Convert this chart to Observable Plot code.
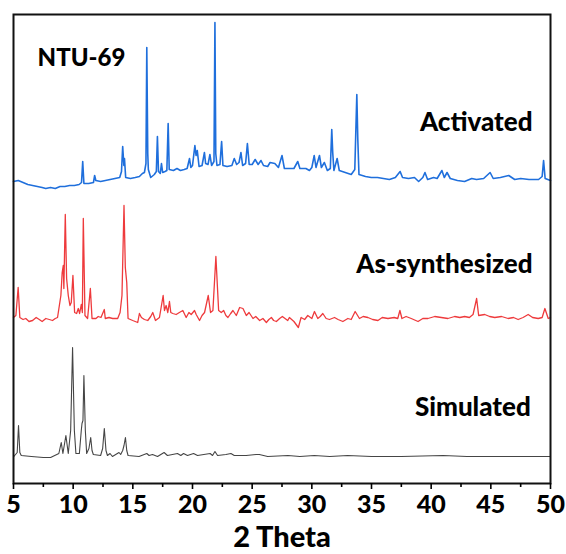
<!DOCTYPE html>
<html>
<head>
<meta charset="utf-8">
<script src="https://cdn.jsdelivr.net/npm/d3@7"></script>
<script src="https://cdn.jsdelivr.net/npm/@observablehq/plot@0.6"></script>
<style>
  html, body { margin: 0; padding: 0; background: #fff; }
  svg text { font-family: Lato, "Open Sans", sans-serif; font-weight: 900; }
</style>
</head>
<body>
<div id="chart"></div>
<script>
// 2θ positions and stacked intensities (arbitrary units)
const activated = [
  [5.0,302],[5.4,303],[5.8,301],[6.2,299],[6.6,298],[7.0,297],[7.4,296],[7.7,295],[8.1,296],[8.5,295],
  [8.9,297],[9.3,297],[9.7,298],[10.1,298],[10.5,299],[10.7,301],[10.8,322],[10.9,300],[11.3,300],[11.7,301],
  [11.8,308],[11.9,303],[12.3,302],[12.7,303],[13.1,304],[13.5,305],[13.9,306],[14.05,312],[14.15,337],[14.25,318],
  [14.3,325],[14.4,306],[14.8,305],[15.2,306],[15.55,307],[15.8,310],[15.97,311],[16.1,320],[16.17,436],[16.25,330],
  [16.3,314],[16.5,306],[16.8,309],[16.97,312],[17.06,347],[17.15,312],[17.3,310],[17.4,320],[17.5,311],[17.7,312],
  [17.85,313],[17.96,360],[18.05,314],[18.4,313],[18.7,315],[18.99,313],[19.3,314],[19.55,315],[19.75,325],[19.86,316],
  [20.0,318],[20.2,338],[20.3,328],[20.4,333],[20.55,317],[20.8,318],[21.0,331],[21.1,320],[21.3,319],[21.46,329],
  [21.6,318],[21.8,322],[21.88,461],[21.95,330],[22.05,318],[22.3,319],[22.44,342],[22.55,318],[22.9,317],[23.3,318],
  [23.5,325],[23.7,319],[23.9,321],[24.06,331],[24.2,318],[24.45,320],[24.6,340],[24.75,319],[25.0,319],[25.25,324],
  [25.5,319],[25.74,323],[25.95,318],[26.3,317],[26.5,321],[26.9,320],[27.2,316],[27.5,328],[27.7,315],[28.1,315],
  [28.5,315],[28.82,322],[29.0,315],[29.5,315],[29.8,313],[30.0,316],[30.2,328],[30.35,316],[30.64,328],[30.8,316],
  [31.05,321],[31.3,313],[31.55,315],[31.67,354],[31.75,331],[31.85,313],[32.12,325],[32.3,313],[32.8,311],[33.3,309],
  [33.6,314],[33.77,389],[33.85,345],[33.95,309],[34.5,307],[34.98,306],[35.5,306],[36.0,305],[36.5,304],[37.0,306],
  [37.4,312],[37.6,306],[38.1,305],[38.6,306],[38.95,302],[39.3,306],[39.48,311],[39.7,304],[40.2,306],[40.5,305],
  [40.9,313],[41.1,306],[41.33,311],[41.6,305],[42.2,303],[42.8,302],[43.4,305],[43.8,304],[44.4,305],[44.94,311],
  [45.2,305],[45.8,306],[46.5,308],[47.0,304],[47.5,305],[48.2,304],[49.0,304],[49.3,307],[49.42,323],[49.55,305],
  [50.0,303]
];
const asSynthesized = [
  [5.0,166],[5.2,168],[5.39,196],[5.53,166],[5.8,164],[6.03,165],[6.3,162],[6.6,163],[6.9,166],[7.16,164],
  [7.4,162],[7.71,165],[8.0,164],[8.27,163],[8.5,165],[8.69,166],[8.97,188],[9.08,211],[9.17,218],[9.22,195],
  [9.34,269],[9.45,205],[9.59,188],[9.73,178],[9.84,181],[9.98,208],[10.12,171],[10.29,170],[10.43,175],[10.54,170],
  [10.68,179],[10.77,171],[10.85,265],[10.99,168],[11.21,165],[11.44,195],[11.58,165],[11.91,165],[12.1,167],[12.33,166],
  [12.61,174],[12.69,165],[13.0,166],[13.31,165],[13.73,165],[13.93,171],[14.09,188],[14.26,278],[14.37,216],[14.49,201],
  [14.6,165],[14.99,163],[15.2,162],[15.41,161],[15.55,170],[15.72,166],[15.97,164],[16.25,163],[16.5,167],[16.67,171],
  [16.9,163],[17.23,166],[17.54,188],[17.65,173],[17.79,178],[17.93,171],[18.07,182],[18.18,171],[18.35,170],[18.63,169],
  [18.9,171],[19.19,173],[19.47,166],[19.7,171],[19.89,169],[20.17,173],[20.31,169],[20.59,163],[20.8,168],[21.01,171],
  [21.32,188],[21.51,171],[21.71,173],[21.96,227],[22.19,173],[22.41,171],[22.61,173],[22.8,168],[22.97,166],[23.2,170],
  [23.39,173],[23.67,168],[23.95,176],[24.23,175],[24.51,168],[24.74,171],[25.07,165],[25.3,167],[25.63,163],[25.9,165],
  [26.19,161],[26.4,164],[26.61,166],[26.8,163],[27.03,162],[27.3,165],[27.53,167],[27.98,163],[28.12,166],[28.5,162],
  [28.87,156],[29.1,166],[29.4,164],[29.66,168],[30.0,165],[30.22,172],[30.5,165],[30.7,167],[30.92,170],[31.2,165],
  [31.48,164],[31.9,166],[32.2,164],[32.6,162],[33.02,165],[33.3,164],[33.63,172],[33.99,165],[34.3,167],[34.7,166],
  [35.1,164],[35.54,163],[35.9,166],[36.38,165],[36.9,166],[37.2,165],[37.38,173],[37.55,165],[37.9,167],[38.33,165],
  [38.9,162],[39.3,165],[39.73,165],[40.3,167],[40.85,166],[41.4,165],[41.97,167],[42.4,166],[42.81,167],[43.2,166],
  [43.51,169],[43.81,185],[43.98,168],[44.49,169],[44.9,167],[45.33,166],[45.9,167],[46.45,165],[46.9,166],[47.29,164],
  [47.7,166],[48.13,169],[48.5,166],[48.97,165],[49.3,166],[49.53,175],[49.81,165],[50.0,166]
];
const simulated = [
  [5.03,27],[5.31,31],[5.42,58],[5.53,31],[5.65,28],[6.5,27],[7.5,26],[8.11,26],[8.8,30],[9.0,41],
  [9.14,30],[9.39,48],[9.59,30],[9.79,53],[9.95,136],[10.1,53],[10.23,30],[10.52,30],[10.68,53],[10.74,60],
  [10.82,63],[10.9,108],[11.02,53],[11.13,30],[11.32,35],[11.47,46],[11.58,33],[11.69,29],[12.3,28],[12.47,35],
  [12.61,55],[12.75,33],[12.87,28],[13.09,30],[13.29,27],[13.84,31],[13.98,29],[14.15,33],[14.26,38],[14.38,46],
  [14.49,33],[14.6,28],[15.52,27],[16.17,30],[16.36,28],[16.65,29],[17.07,27],[17.62,31],[17.9,28],[18.74,30],
  [19.02,28],[19.25,30],[19.58,28],[20.09,30],[20.42,28],[21.48,30],[21.68,28],[21.88,32],[22.1,28],[22.8,29],
  [23.22,30],[23.5,28],[24.5,28],[25.32,29],[25.6,29],[26.3,27],[28.0,28],[29.0,27],[30.2,28],[31.5,27],
  [33.0,28],[35.0,27],[37.5,27],[41.0,28],[43.0,27],[45.0,27],[47.5,27],[50.0,27]
];

const seriesNames = ["Activated", "As-synthesized", "Simulated"];
const seriesColors = ["#1f6fdc", "#ee3a3c", "#454545"];
const seriesWidths = [1.6, 1.3, 1.1];

// Labels: [text, 2θ, intensity]
const titleLabel = [["NTU-69", 7.02, 418]];
const seriesLabels = [
  ["Activated", 48.5, 353],
  ["As-synthesized", 48.5, 211],
  ["Simulated", 48.35, 68]
];
const majorTicks = d3.range(5, 51, 5);
const minorTicks = d3.range(7.5, 50, 5);

const toRows = (arr, name) => arr.map(([x, y]) => ({x, y, name}));
const rows = [
  ...toRows(activated, seriesNames[0]),
  ...toRows(asSynthesized, seriesNames[1]),
  ...toRows(simulated, seriesNames[2])
];

const chart = Plot.plot({
  width: 566,
  height: 554,
  marginTop: 14,
  marginBottom: 71,
  marginLeft: 13,
  marginRight: 16,
  style: {fontFamily: "Lato, 'Open Sans', sans-serif", background: "#fff"},
  x: {domain: [5, 50]},
  y: {domain: [0, 469], axis: null},
  marks: [
    ...seriesNames.map((n, i) => Plot.line(rows.filter(d => d.name === n), {
      x: "x", y: "y", stroke: seriesColors[i], strokeWidth: seriesWidths[i], strokeLinejoin: "round"
    })),
    Plot.text(titleLabel, {
      x: d => d[1], y: d => d[2], text: d => d[0], textAnchor: "start",
      fontSize: 24, fontWeight: 900, lineAnchor: "bottom", fill: "#000"
    }),
    Plot.text(seriesLabels, {
      x: d => d[1], y: d => d[2], text: d => d[0], textAnchor: "end",
      fontSize: 26, fontWeight: 900, lineAnchor: "bottom", fill: "#000"
    }),
    Plot.frame({stroke: "#111", strokeWidth: 2}),
    Plot.axisX({ticks: minorTicks, tickSize: 4, tickFormat: () => "", strokeWidth: 1.6, label: null}),
    Plot.axisX({ticks: majorTicks, tickSize: 6, tickPadding: 6, fontSize: 25, fontWeight: 900,
      strokeWidth: 1.6, label: null, fill: "#000"}),
    Plot.text(["2 Theta"], {frameAnchor: "bottom", dy: 54, lineAnchor: "middle", fontSize: 29,
      fontWeight: 900, fill: "#000"})
  ]
});
document.getElementById("chart").appendChild(chart);
</script>
</body>
</html>
